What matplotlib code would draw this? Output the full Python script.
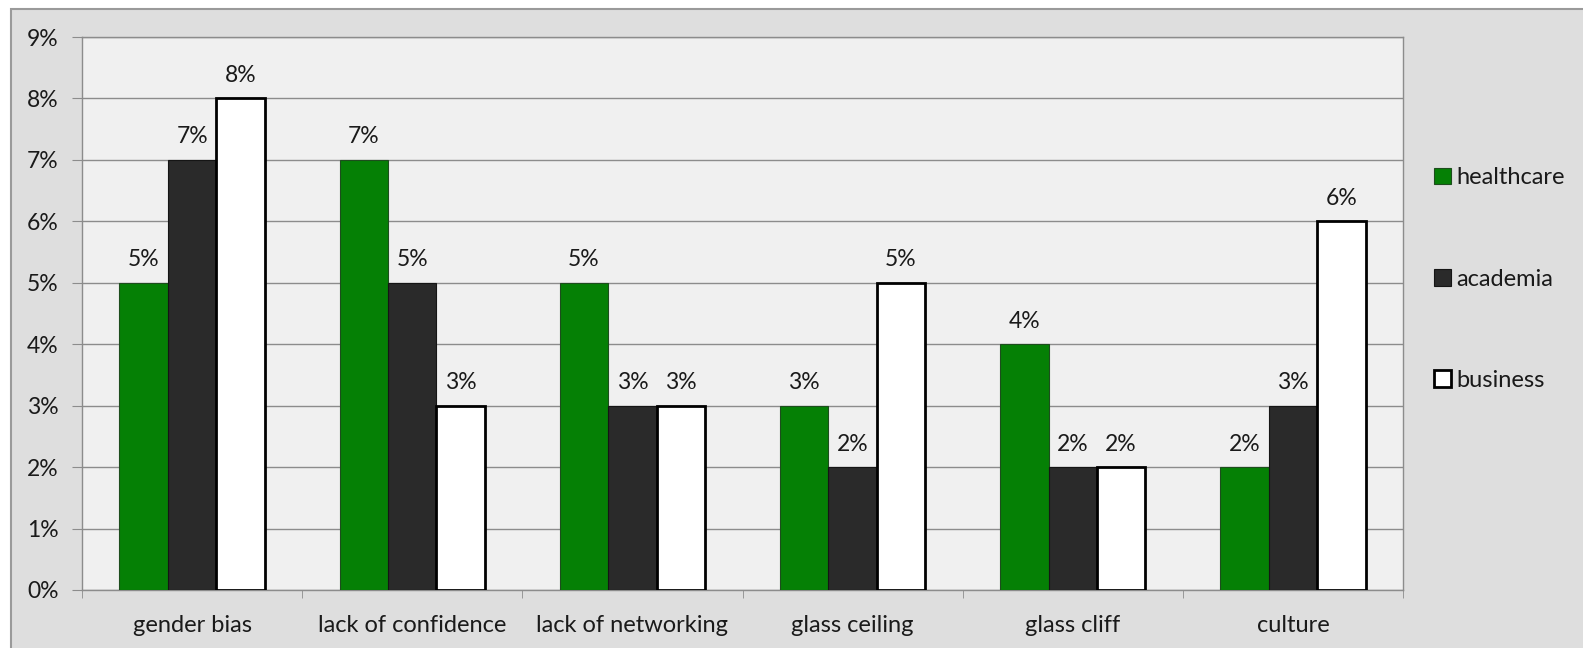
import matplotlib
matplotlib.use("Agg")
import matplotlib.pyplot as plt
from matplotlib.patches import Rectangle
from matplotlib.ticker import FuncFormatter, MultipleLocator
import numpy as np

categories = ["gender bias", "lack of confidence", "lack of networking",
              "glass ceiling", "glass cliff", "culture"]
healthcare = [5, 7, 5, 3, 4, 2]
academia = [7, 5, 3, 2, 2, 3]
business = [8, 3, 3, 5, 2, 6]
series_names = ["healthcare", "academia", "business"]

plt.rcParams['font.family'] = ['Lato', 'DejaVu Sans']

fig = plt.figure(figsize=(15.83, 6.48), dpi=100)
fig.patch.set_facecolor("white")
# outer chart frame
fig.patches.append(Rectangle((11/1583, -0.01), 1.02, 1 - 9/648 + 0.01,
                             transform=fig.transFigure, facecolor="#dedede",
                             edgecolor="#9a9a9a", linewidth=1.5, zorder=-10))

ax = fig.add_axes([82/1583, 1 - 590/648, (1403 - 82)/1583, (590 - 37)/648])
ax.set_zorder(2)
ax.set_facecolor("#f0f0f0")

x = np.arange(len(categories))
w = 0.22
colors = ["#058005", "#2a2a2a", "#ffffff"]
edges = ["#1d4d1d", "#151515", "#000000"]
lws = [0.8, 0.8, 2.0]
all_series = [healthcare, academia, business]
for i, (vals, name) in enumerate(zip(all_series, series_names)):
    pos = x + (i - 1) * w
    bars = ax.bar(pos, vals, width=w, color=colors[i], edgecolor=edges[i],
                  linewidth=lws[i], label=name, zorder=3)
    for b, v in zip(bars, vals):
        ax.annotate(f"{v}%", (b.get_x() + b.get_width()/2, v),
                    xytext=(0, 9), textcoords="offset points",
                    ha="center", va="bottom", fontsize=16.5, color="#1a1a1a")

ax.set_xlim(-0.5, len(categories) - 0.5)
ax.set_ylim(0, 9)
ax.yaxis.set_major_locator(MultipleLocator(1))
ax.yaxis.set_major_formatter(FuncFormatter(lambda v, p: f"{int(v)}%"))
ax.grid(axis="y", color="#8c8c8c", linewidth=1.0, zorder=1)
ax.set_axisbelow(True)
ax.set_xticks(x)
ax.set_xticklabels(categories)
ax.set_xticks(np.arange(-0.5, len(categories)), minor=True)
ax.tick_params(axis="x", which="major", length=0, pad=18, labelsize=17,
               colors="#1a1a1a")
ax.tick_params(axis="x", which="minor", length=6, color="#8c8c8c", direction="out")
ax.tick_params(axis="y", length=7, labelsize=16.5, pad=10, labelcolor="#1a1a1a",
               color="#8c8c8c")
for s in ["top", "right", "left", "bottom"]:
    ax.spines[s].set_color("#8c8c8c")
    ax.spines[s].set_linewidth(1.0)

leg = fig.legend(loc="upper left", bbox_to_anchor=(1413/1583, 1 - 146/648),
                 frameon=False, fontsize=17, handlelength=0.7, handleheight=0.7,
                 handletextpad=0.25, labelspacing=3.4)
for t in leg.get_texts():
    t.set_color("#1a1a1a")

fig.savefig("out.png", dpi=100, facecolor=fig.get_facecolor())
